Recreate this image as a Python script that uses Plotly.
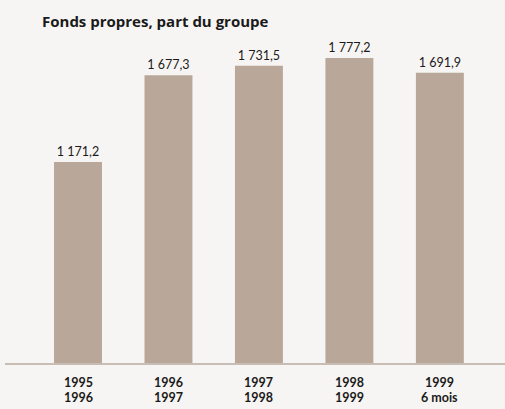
import plotly.graph_objects as go

categories = ["1995-1996", "1996-1997", "1997-1998", "1998-1999", "1999-6 mois"]
label_line1 = ["1995", "1996", "1997", "1998", "1999"]
label_line2 = ["1996", "1997", "1998", "1999", "6 mois"]
values = [1171.2, 1677.3, 1731.5, 1777.2, 1691.9]
value_labels = ["1 171,2", "1 677,3", "1 731,5", "1 777,2", "1 691,9"]

FONT = "Lato, Open Sans, sans-serif"
TOP, BASE = 40, 363
H = BASE - TOP

fig = go.Figure()
fig.add_trace(go.Bar(
    x=categories, y=values,
    text=value_labels, textposition="outside",
    textfont=dict(family=FONT, size=12.5, color="#1a1a1a"),
    marker=dict(color="#b9a899", line=dict(width=0)),
    width=0.53, cliponaxis=False, hoverinfo="skip",
))

annotations = []
for c, l1, l2 in zip(categories, label_line1, label_line2):
    annotations.append(dict(x=c, xref="x", y=(BASE - 382) / H, yref="paper",
                            text=f"<b>{l1}</b>", showarrow=False, yanchor="middle",
                            font=dict(family=FONT, size=12.5, color="#1a1a1a")))
    annotations.append(dict(x=c, xref="x", y=(BASE - 397.5) / H, yref="paper",
                            text=f"<b>{l2}</b>", showarrow=False, yanchor="middle",
                            font=dict(family=FONT, size=12.5, color="#1a1a1a")))

fig.update_layout(
    width=505, height=409,
    margin=dict(l=5, r=0, t=TOP, b=409 - BASE),
    paper_bgcolor="#f7f5f3", plot_bgcolor="#f7f5f3",
    showlegend=False,
    title=dict(text="<b>Fonds propres, part du groupe</b>", x=42/505, xanchor="left",
               y=1-22/409, yanchor="middle",
               font=dict(family="Open Sans, sans-serif", size=15, color="#1a1a1a")),
    annotations=annotations,
)
fig.update_xaxes(
    type="category", range=[-0.807, 4.72],
    showline=True, linecolor="#c8bdb5", linewidth=2,
    ticks="", showgrid=False, showticklabels=False,
)
fig.update_yaxes(range=[0, 1882], visible=False, showgrid=False)
fig.write_html("out.html", config={"displayModeBar": False},
               post_script="document.body.style.margin='0';")
